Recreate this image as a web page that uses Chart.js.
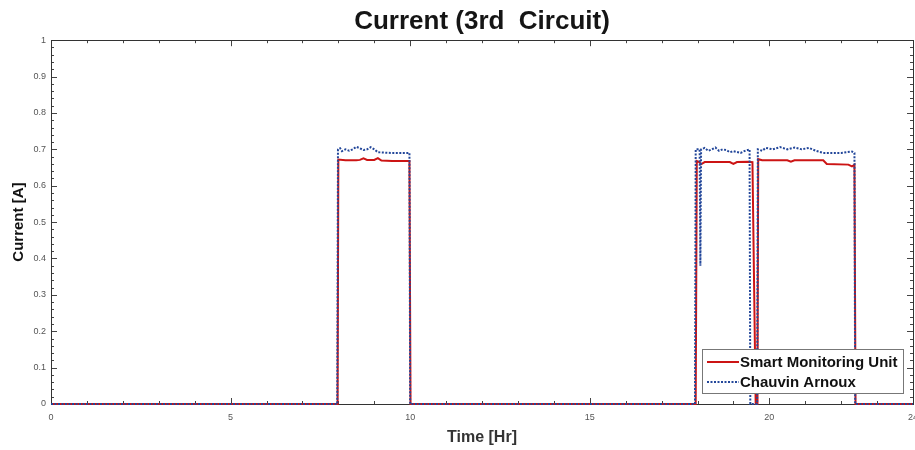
<!DOCTYPE html>
<html>
<head>
<meta charset="utf-8">
<script src="https://cdn.jsdelivr.net/npm/chart.js@4.4.1/dist/chart.umd.min.js"></script>
<style>
  html, body { margin: 0; padding: 0; background: #fff; }
  #wrap { width: 915px; height: 450px; position: relative; }
</style>
</head>
<body>
<div id="wrap"><canvas id="c"></canvas></div>
<script>
// Current of the 3rd circuit over a day, two meters compared.
const xTicks = [0, 5, 10, 15, 20, 24];
const yTicks = [0, 0.1, 0.2, 0.3, 0.4, 0.5, 0.6, 0.7, 0.8, 0.9, 1];

// Smart Monitoring Unit (red, solid)
const smuTime = [0, 7.98, 8.0, 8.2, 8.5, 8.6, 8.7, 8.8, 9.0, 9.1, 9.2, 9.5, 9.98, 10.01,
  17.95, 17.98, 18.05, 18.1, 18.2, 18.9, 19.0, 19.1, 19.4, 19.53, 19.62, 19.67, 19.69,
  19.8, 20.5, 20.6, 20.7, 21.5, 21.6, 22.2, 22.3, 22.37, 22.4, 24];
const smuAmp = [0, 0, 0.672, 0.67, 0.67, 0.671, 0.675, 0.671, 0.671, 0.676, 0.669, 0.668, 0.668, 0,
  0, 0.668, 0.665, 0.659, 0.665, 0.665, 0.66, 0.665, 0.666, 0.665, 0, 0, 0.673,
  0.67, 0.67, 0.666, 0.67, 0.67, 0.66, 0.658, 0.653, 0.658, 0, 0];

// Chauvin Arnoux (blue, dotted)
const caTime = [0, 7.97, 7.99, 8.05, 8.1, 8.2, 8.3, 8.4, 8.5, 8.6, 8.7, 8.8, 8.9, 9.0, 9.1, 9.5, 9.98, 10.0,
  17.93, 17.95, 18.06, 18.08, 18.1, 18.2, 18.3, 18.4, 18.5, 18.6, 18.7, 18.8, 18.9, 19.0, 19.2, 19.3, 19.45, 19.47,
  19.66, 19.68, 19.8, 19.9, 20.1, 20.3, 20.5, 20.7, 20.9, 21.1, 21.3, 21.5, 22.0, 22.3, 22.37, 22.39, 24];
const caAmp = [0, 0, 0.70, 0.703, 0.695, 0.70, 0.696, 0.70, 0.707, 0.703, 0.698, 0.70, 0.706, 0.70, 0.692, 0.69, 0.69, 0,
  0, 0.70, 0.70, 0.38, 0.70, 0.704, 0.696, 0.70, 0.705, 0.696, 0.70, 0.698, 0.692, 0.695, 0.69, 0.695, 0.70, 0,
  0, 0.70, 0.696, 0.704, 0.70, 0.706, 0.70, 0.705, 0.70, 0.704, 0.696, 0.69, 0.69, 0.694, 0.69, 0, 0];

const seriesNames = ["Smart Monitoring Unit", "Chauvin Arnoux"];
const RED = "#cc1414";
const BLUE = "#23479a";
const FONT = "'Liberation Sans', Arial, sans-serif";

const pts = (t, v) => t.map((x, i) => ({ x: x, y: v[i] }));

// box, inward major/minor ticks on all four sides (MATLAB style)
const frame = {
  id: "frame",
  beforeDatasetsDraw(chart) {
    const { ctx, chartArea: a, scales: { x, y } } = chart;
    ctx.save();
    ctx.strokeStyle = "#444";
    ctx.lineWidth = 1;
    ctx.beginPath();
    for (let h = 0; h <= 24; h++) {
      const px = Math.round(x.getPixelForValue(h)) + 0.5;
      const len = xTicks.includes(h) ? 6 : 3;
      ctx.moveTo(px, a.bottom); ctx.lineTo(px, a.bottom - len);
      ctx.moveTo(px, a.top); ctx.lineTo(px, a.top + len);
    }
    for (let k = 0; k <= 50; k++) {
      const py = Math.round(y.getPixelForValue(k / 50)) + 0.5;
      const len = k % 5 === 0 ? 6 : 3;
      ctx.moveTo(a.left, py); ctx.lineTo(a.left + len, py);
      ctx.moveTo(a.right, py); ctx.lineTo(a.right - len, py);
    }
    ctx.stroke();
    ctx.strokeStyle = "#333";
    ctx.strokeRect(Math.round(a.left) + 0.5, Math.round(a.top) + 0.5,
      Math.round(a.right - a.left), Math.round(a.bottom - a.top));
    ctx.restore();
  },
  afterDraw(chart) {
    const { ctx, chartArea: a } = chart;
    const bx = a.right - 211, by = a.bottom - 55, bw = 201, bh = 44;
    ctx.save();
    ctx.fillStyle = "#fff";
    ctx.fillRect(bx, by, bw, bh);
    ctx.strokeStyle = "#777";
    ctx.lineWidth = 1;
    ctx.strokeRect(bx + 0.5, by + 0.5, bw, bh);
    ctx.font = "bold 15px " + FONT;
    ctx.textBaseline = "middle";
    ctx.fillStyle = "#111";
    const rows = [by + 13, by + 33];
    ctx.lineWidth = 2;
    ctx.strokeStyle = RED;
    ctx.beginPath(); ctx.moveTo(bx + 5, rows[0]); ctx.lineTo(bx + 37, rows[0]); ctx.stroke();
    ctx.strokeStyle = BLUE;
    ctx.setLineDash([2, 1.5]);
    ctx.beginPath(); ctx.moveTo(bx + 5, rows[1]); ctx.lineTo(bx + 37, rows[1]); ctx.stroke();
    ctx.setLineDash([]);
    ctx.fillText(seriesNames[0], bx + 38, rows[0] + 1);
    ctx.fillText(seriesNames[1], bx + 38, rows[1] + 1);
    ctx.restore();
  }
};

const tickFont = { family: FONT, size: 9 };

new Chart(document.getElementById("c"), {
  type: "scatter",
  data: {
    datasets: [
      {
        label: seriesNames[1],
        data: pts(caTime, caAmp),
        showLine: true,
        borderColor: BLUE,
        borderWidth: 2,
        borderDash: [2, 1.5],
        pointRadius: 0,
        order: 0,
        clip: 5,
      },
      {
        label: seriesNames[0],
        data: pts(smuTime, smuAmp),
        showLine: true,
        borderColor: RED,
        borderWidth: 2,
        pointRadius: 0,
        order: 1,
        clip: 5,
      },
    ],
  },
  options: {
    responsive: true, maintainAspectRatio: false,
    animation: false,
    layout: { padding: { left: 0, right: 2, top: 0, bottom: 0 } },
    plugins: {
      legend: { display: false },
      tooltip: { enabled: false },
      title: {
        display: true,
        fullSize: false,  // centre over the plot box, not the whole canvas
        text: "Current (3rd  Circuit)",
        color: "#151515",
        font: { family: FONT, size: 26, weight: "bold" },
        padding: { top: 6, bottom: 3 },
      },
    },
    scales: {
      x: {
        type: "linear", min: 0, max: 24,
        grid: { display: false, drawTicks: false },
        border: { display: false },
        afterBuildTicks: (s) => { s.ticks = xTicks.map(v => ({ value: v })); },
        afterFit: (s) => { s.height = 46; s.paddingLeft = 0; s.paddingRight = 0; },
        ticks: { color: "#555", font: tickFont, padding: 8, maxRotation: 0,
                 autoSkip: false, callback: (v) => String(v) },
        title: {
          display: true, text: "Time [Hr]", color: "#333",
          font: { family: FONT, size: 16, weight: "bold" },
          padding: { top: 0, bottom: 3 },
        },
      },
      y: {
        min: 0, max: 1,
        grid: { display: false, drawTicks: false },
        border: { display: false },
        afterBuildTicks: (s) => { s.ticks = yTicks.map(v => ({ value: v })); },
        afterFit: (s) => { s.width = 51; },
        ticks: { color: "#555", font: tickFont, padding: 5, autoSkip: false,
                 callback: (v) => String(Math.round(v * 10) / 10) },
        title: {
          display: true, text: "Current [A]", color: "#111",
          font: { family: FONT, size: 15, weight: "bold" },
          padding: { top: 10, bottom: 0 },
        },
      },
    },
  },
  plugins: [frame],
});
</script>
</body>
</html>
